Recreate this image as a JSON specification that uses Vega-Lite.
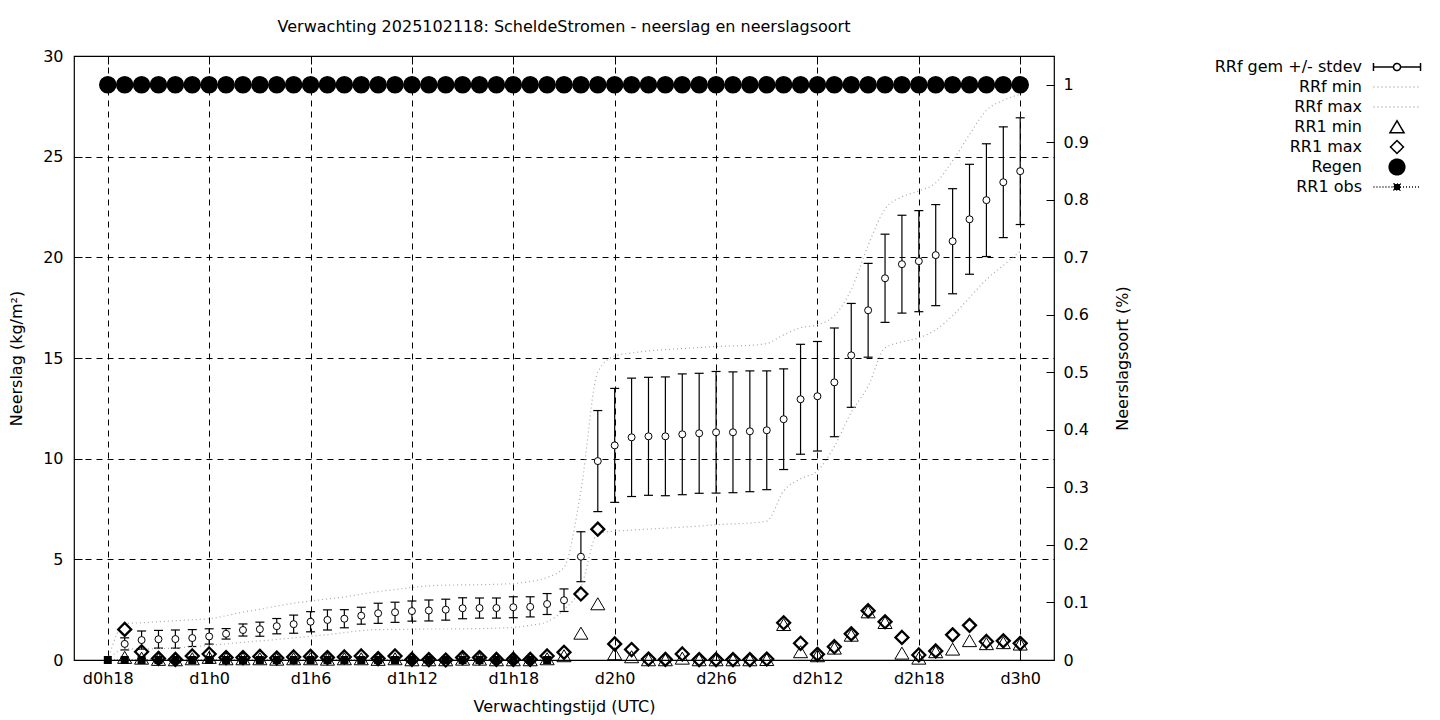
{
"$schema": "https://vega.github.io/schema/vega-lite/v6.json",
"width": 980, "height": 604,
"autosize": {"type": "none"},
"padding": {"left": 74, "top": 56, "right": 386, "bottom": 60},
"background": "white",
"title": {"text": "Verwachting 2025102118: ScheldeStromen - neerslag en neerslagsoort", "font": "DejaVu Sans", "fontSize": 16, "fontWeight": "normal", "color": "black", "anchor": "middle", "frame": "group", "baseline": "bottom", "offset": -3},
"datasets": {
"rrf": [
{"h":19,"v":0.8,"lo":0.5,"hi":1.1},{"h":20,"v":0.99,"lo":0.54,"hi":1.44},{"h":21,"v":1.03,"lo":0.59,"hi":1.47},{"h":22,"v":1.04,"lo":0.59,"hi":1.49},{"h":23,"v":1.09,"lo":0.67,"hi":1.51},{"h":24,"v":1.17,"lo":0.79,"hi":1.55},{"h":25,"v":1.3,"lo":1.04,"hi":1.56},{"h":26,"v":1.49,"lo":1.19,"hi":1.79},{"h":27,"v":1.53,"lo":1.18,"hi":1.88},{"h":28,"v":1.68,"lo":1.3,"hi":2.06},{"h":29,"v":1.78,"lo":1.33,"hi":2.23},{"h":30,"v":1.9,"lo":1.4,"hi":2.4},{"h":31,"v":1.99,"lo":1.49,"hi":2.49},{"h":32,"v":2.05,"lo":1.6,"hi":2.5},{"h":33,"v":2.2,"lo":1.78,"hi":2.62},{"h":34,"v":2.32,"lo":1.82,"hi":2.82},{"h":35,"v":2.37,"lo":1.87,"hi":2.87},{"h":36,"v":2.43,"lo":1.93,"hi":2.93},{"h":37,"v":2.46,"lo":1.94,"hi":2.98},{"h":38,"v":2.5,"lo":1.98,"hi":3.02},{"h":39,"v":2.57,"lo":2.05,"hi":3.09},{"h":40,"v":2.58,"lo":2.08,"hi":3.08},{"h":41,"v":2.58,"lo":2.08,"hi":3.08},{"h":42,"v":2.62,"lo":2.1,"hi":3.14},{"h":43,"v":2.64,"lo":2.14,"hi":3.14},{"h":44,"v":2.78,"lo":2.26,"hi":3.3},{"h":45,"v":2.97,"lo":2.41,"hi":3.53},{"h":46,"v":5.13,"lo":3.89,"hi":6.37},{"h":47,"v":9.88,"lo":7.37,"hi":12.39},{"h":48,"v":10.66,"lo":7.83,"hi":13.49},{"h":49,"v":11.06,"lo":8.12,"hi":14.0},{"h":50,"v":11.11,"lo":8.18,"hi":14.04},{"h":51,"v":11.11,"lo":8.16,"hi":14.06},{"h":52,"v":11.21,"lo":8.21,"hi":14.21},{"h":53,"v":11.26,"lo":8.28,"hi":14.24},{"h":54,"v":11.31,"lo":8.29,"hi":14.33},{"h":55,"v":11.31,"lo":8.31,"hi":14.31},{"h":56,"v":11.36,"lo":8.36,"hi":14.36},{"h":57,"v":11.41,"lo":8.46,"hi":14.36},{"h":58,"v":11.96,"lo":9.46,"hi":14.46},{"h":59,"v":12.95,"lo":10.22,"hi":15.68},{"h":60,"v":13.1,"lo":10.38,"hi":15.82},{"h":61,"v":13.79,"lo":11.09,"hi":16.49},{"h":62,"v":15.13,"lo":12.55,"hi":17.71},{"h":63,"v":17.37,"lo":15.04,"hi":19.7},{"h":64,"v":18.96,"lo":16.77,"hi":21.15},{"h":65,"v":19.66,"lo":17.23,"hi":22.09},{"h":66,"v":19.81,"lo":17.3,"hi":22.32},{"h":67,"v":20.11,"lo":17.6,"hi":22.62},{"h":68,"v":20.8,"lo":18.19,"hi":23.41},{"h":69,"v":21.89,"lo":19.16,"hi":24.62},{"h":70,"v":22.84,"lo":20.04,"hi":25.64},{"h":71,"v":23.73,"lo":20.98,"hi":26.48},{"h":72,"v":24.28,"lo":21.63,"hi":26.93}
],
"lines": [
{"h":18,"series":"RRf min","v":0},{"h":19,"series":"RRf min","v":0.55},{"h":20,"series":"RRf min","v":0.55},{"h":21,"series":"RRf min","v":0.56},{"h":22,"series":"RRf min","v":0.6},{"h":23,"series":"RRf min","v":0.66},{"h":24,"series":"RRf min","v":0.73},{"h":25,"series":"RRf min","v":0.8},{"h":26,"series":"RRf min","v":0.88},{"h":27,"series":"RRf min","v":0.95},{"h":28,"series":"RRf min","v":1.02},{"h":29,"series":"RRf min","v":1.1},{"h":30,"series":"RRf min","v":1.18},{"h":31,"series":"RRf min","v":1.26},{"h":32,"series":"RRf min","v":1.36},{"h":33,"series":"RRf min","v":1.46},{"h":34,"series":"RRf min","v":1.51},{"h":35,"series":"RRf min","v":1.52},{"h":36,"series":"RRf min","v":1.53},{"h":37,"series":"RRf min","v":1.54},{"h":38,"series":"RRf min","v":1.54},{"h":39,"series":"RRf min","v":1.55},{"h":40,"series":"RRf min","v":1.56},{"h":41,"series":"RRf min","v":1.58},{"h":42,"series":"RRf min","v":1.62},{"h":43,"series":"RRf min","v":1.72},{"h":44,"series":"RRf min","v":1.9},{"h":45,"series":"RRf min","v":2.5},{"h":46,"series":"RRf min","v":3.6},{"h":47,"series":"RRf min","v":6.3},{"h":48,"series":"RRf min","v":6.4},{"h":49,"series":"RRf min","v":6.45},{"h":50,"series":"RRf min","v":6.5},{"h":51,"series":"RRf min","v":6.55},{"h":52,"series":"RRf min","v":6.6},{"h":53,"series":"RRf min","v":6.65},{"h":54,"series":"RRf min","v":6.72},{"h":55,"series":"RRf min","v":6.76},{"h":56,"series":"RRf min","v":6.8},{"h":57,"series":"RRf min","v":6.9},{"h":58,"series":"RRf min","v":8.4},{"h":59,"series":"RRf min","v":9.0},{"h":60,"series":"RRf min","v":9.4},{"h":61,"series":"RRf min","v":10.6},{"h":62,"series":"RRf min","v":12.3},{"h":63,"series":"RRf min","v":13.6},{"h":64,"series":"RRf min","v":15.5},{"h":65,"series":"RRf min","v":15.8},{"h":66,"series":"RRf min","v":16.0},{"h":67,"series":"RRf min","v":16.4},{"h":68,"series":"RRf min","v":17.1},{"h":69,"series":"RRf min","v":18.0},{"h":70,"series":"RRf min","v":18.9},{"h":71,"series":"RRf min","v":19.6},{"h":72,"series":"RRf min","v":20.3},
{"h":18,"series":"RRf max","v":0},{"h":19,"series":"RRf max","v":1.8},{"h":20,"series":"RRf max","v":1.85},{"h":21,"series":"RRf max","v":1.9},{"h":22,"series":"RRf max","v":1.95},{"h":23,"series":"RRf max","v":2.0},{"h":24,"series":"RRf max","v":2.05},{"h":25,"series":"RRf max","v":2.2},{"h":26,"series":"RRf max","v":2.38},{"h":27,"series":"RRf max","v":2.52},{"h":28,"series":"RRf max","v":2.68},{"h":29,"series":"RRf max","v":2.82},{"h":30,"series":"RRf max","v":2.93},{"h":31,"series":"RRf max","v":3.03},{"h":32,"series":"RRf max","v":3.13},{"h":33,"series":"RRf max","v":3.27},{"h":34,"series":"RRf max","v":3.4},{"h":35,"series":"RRf max","v":3.5},{"h":36,"series":"RRf max","v":3.6},{"h":37,"series":"RRf max","v":3.68},{"h":38,"series":"RRf max","v":3.72},{"h":39,"series":"RRf max","v":3.73},{"h":40,"series":"RRf max","v":3.74},{"h":41,"series":"RRf max","v":3.76},{"h":42,"series":"RRf max","v":3.8},{"h":43,"series":"RRf max","v":3.9},{"h":44,"series":"RRf max","v":4.1},{"h":45,"series":"RRf max","v":4.6},{"h":46,"series":"RRf max","v":8.4},{"h":47,"series":"RRf max","v":14.3},{"h":48,"series":"RRf max","v":15.1},{"h":49,"series":"RRf max","v":15.25},{"h":50,"series":"RRf max","v":15.35},{"h":51,"series":"RRf max","v":15.42},{"h":52,"series":"RRf max","v":15.47},{"h":53,"series":"RRf max","v":15.52},{"h":54,"series":"RRf max","v":15.57},{"h":55,"series":"RRf max","v":15.6},{"h":56,"series":"RRf max","v":15.63},{"h":57,"series":"RRf max","v":15.72},{"h":58,"series":"RRf max","v":16.15},{"h":59,"series":"RRf max","v":16.5},{"h":60,"series":"RRf max","v":16.65},{"h":61,"series":"RRf max","v":17.1},{"h":62,"series":"RRf max","v":18.4},{"h":63,"series":"RRf max","v":20.6},{"h":64,"series":"RRf max","v":22.4},{"h":65,"series":"RRf max","v":23.0},{"h":66,"series":"RRf max","v":23.3},{"h":67,"series":"RRf max","v":23.7},{"h":68,"series":"RRf max","v":24.8},{"h":69,"series":"RRf max","v":26.1},{"h":70,"series":"RRf max","v":27.3},{"h":71,"series":"RRf max","v":27.8},{"h":72,"series":"RRf max","v":28.1}
],
"rr1min": [
{"h":19,"series":"RR1 min","v":0.12},{"h":20,"series":"RR1 min","v":0.08},{"h":21,"series":"RR1 min","v":0.02},{"h":22,"series":"RR1 min","v":0},{"h":23,"series":"RR1 min","v":0.05},{"h":24,"series":"RR1 min","v":0.12},{"h":25,"series":"RR1 min","v":0.05},{"h":26,"series":"RR1 min","v":0.05},{"h":27,"series":"RR1 min","v":0.05},{"h":28,"series":"RR1 min","v":0.03},{"h":29,"series":"RR1 min","v":0.05},{"h":30,"series":"RR1 min","v":0.05},{"h":31,"series":"RR1 min","v":0.03},{"h":32,"series":"RR1 min","v":0.05},{"h":33,"series":"RR1 min","v":0.05},{"h":34,"series":"RR1 min","v":0.02},{"h":35,"series":"RR1 min","v":0.05},{"h":36,"series":"RR1 min","v":0},{"h":37,"series":"RR1 min","v":0},{"h":38,"series":"RR1 min","v":0},{"h":39,"series":"RR1 min","v":0.03},{"h":40,"series":"RR1 min","v":0.03},{"h":41,"series":"RR1 min","v":0},{"h":42,"series":"RR1 min","v":0},{"h":43,"series":"RR1 min","v":0},{"h":44,"series":"RR1 min","v":0.05},{"h":45,"series":"RR1 min","v":0.2},{"h":46,"series":"RR1 min","v":1.32},{"h":47,"series":"RR1 min","v":2.78},{"h":48,"series":"RR1 min","v":0.3},{"h":49,"series":"RR1 min","v":0.15},{"h":50,"series":"RR1 min","v":0},{"h":51,"series":"RR1 min","v":0},{"h":52,"series":"RR1 min","v":0.08},{"h":53,"series":"RR1 min","v":0},{"h":54,"series":"RR1 min","v":0},{"h":55,"series":"RR1 min","v":0},{"h":56,"series":"RR1 min","v":0},{"h":57,"series":"RR1 min","v":0.01},{"h":58,"series":"RR1 min","v":1.75},{"h":59,"series":"RR1 min","v":0.4},{"h":60,"series":"RR1 min","v":0.2},{"h":61,"series":"RR1 min","v":0.58},{"h":62,"series":"RR1 min","v":1.22},{"h":63,"series":"RR1 min","v":2.38},{"h":64,"series":"RR1 min","v":1.85},{"h":65,"series":"RR1 min","v":0.33},{"h":66,"series":"RR1 min","v":0.08},{"h":67,"series":"RR1 min","v":0.4},{"h":68,"series":"RR1 min","v":0.53},{"h":69,"series":"RR1 min","v":0.95},{"h":70,"series":"RR1 min","v":0.8},{"h":71,"series":"RR1 min","v":0.85},{"h":72,"series":"RR1 min","v":0.78}
],
"rr1max": [
{"h":19,"series":"RR1 max","v":1.52},{"h":20,"series":"RR1 max","v":0.41},{"h":21,"series":"RR1 max","v":0.08},{"h":22,"series":"RR1 max","v":0.03},{"h":23,"series":"RR1 max","v":0.2},{"h":24,"series":"RR1 max","v":0.3},{"h":25,"series":"RR1 max","v":0.12},{"h":26,"series":"RR1 max","v":0.12},{"h":27,"series":"RR1 max","v":0.18},{"h":28,"series":"RR1 max","v":0.1},{"h":29,"series":"RR1 max","v":0.15},{"h":30,"series":"RR1 max","v":0.18},{"h":31,"series":"RR1 max","v":0.12},{"h":32,"series":"RR1 max","v":0.15},{"h":33,"series":"RR1 max","v":0.2},{"h":34,"series":"RR1 max","v":0.07},{"h":35,"series":"RR1 max","v":0.2},{"h":36,"series":"RR1 max","v":0.03},{"h":37,"series":"RR1 max","v":0.02},{"h":38,"series":"RR1 max","v":0},{"h":39,"series":"RR1 max","v":0.12},{"h":40,"series":"RR1 max","v":0.12},{"h":41,"series":"RR1 max","v":0.03},{"h":42,"series":"RR1 max","v":0.03},{"h":43,"series":"RR1 max","v":0.03},{"h":44,"series":"RR1 max","v":0.2},{"h":45,"series":"RR1 max","v":0.38},{"h":46,"series":"RR1 max","v":3.28},{"h":47,"series":"RR1 max","v":6.5},{"h":48,"series":"RR1 max","v":0.8},{"h":49,"series":"RR1 max","v":0.52},{"h":50,"series":"RR1 max","v":0.05},{"h":51,"series":"RR1 max","v":0.03},{"h":52,"series":"RR1 max","v":0.3},{"h":53,"series":"RR1 max","v":0.02},{"h":54,"series":"RR1 max","v":0.02},{"h":55,"series":"RR1 max","v":0.02},{"h":56,"series":"RR1 max","v":0.02},{"h":57,"series":"RR1 max","v":0.05},{"h":58,"series":"RR1 max","v":1.85},{"h":59,"series":"RR1 max","v":0.83},{"h":60,"series":"RR1 max","v":0.28},{"h":61,"series":"RR1 max","v":0.66},{"h":62,"series":"RR1 max","v":1.3},{"h":63,"series":"RR1 max","v":2.45},{"h":64,"series":"RR1 max","v":1.9},{"h":65,"series":"RR1 max","v":1.12},{"h":66,"series":"RR1 max","v":0.25},{"h":67,"series":"RR1 max","v":0.45},{"h":68,"series":"RR1 max","v":1.25},{"h":69,"series":"RR1 max","v":1.72},{"h":70,"series":"RR1 max","v":0.92},{"h":71,"series":"RR1 max","v":0.95},{"h":72,"series":"RR1 max","v":0.83}
],
"regen": [
{"h":18,"series":"Regen","v":1},{"h":19,"series":"Regen","v":1},{"h":20,"series":"Regen","v":1},{"h":21,"series":"Regen","v":1},{"h":22,"series":"Regen","v":1},{"h":23,"series":"Regen","v":1},{"h":24,"series":"Regen","v":1},{"h":25,"series":"Regen","v":1},{"h":26,"series":"Regen","v":1},{"h":27,"series":"Regen","v":1},{"h":28,"series":"Regen","v":1},{"h":29,"series":"Regen","v":1},{"h":30,"series":"Regen","v":1},{"h":31,"series":"Regen","v":1},{"h":32,"series":"Regen","v":1},{"h":33,"series":"Regen","v":1},{"h":34,"series":"Regen","v":1},{"h":35,"series":"Regen","v":1},{"h":36,"series":"Regen","v":1},{"h":37,"series":"Regen","v":1},{"h":38,"series":"Regen","v":1},{"h":39,"series":"Regen","v":1},{"h":40,"series":"Regen","v":1},{"h":41,"series":"Regen","v":1},{"h":42,"series":"Regen","v":1},{"h":43,"series":"Regen","v":1},{"h":44,"series":"Regen","v":1},{"h":45,"series":"Regen","v":1},{"h":46,"series":"Regen","v":1},{"h":47,"series":"Regen","v":1},{"h":48,"series":"Regen","v":1},{"h":49,"series":"Regen","v":1},{"h":50,"series":"Regen","v":1},{"h":51,"series":"Regen","v":1},{"h":52,"series":"Regen","v":1},{"h":53,"series":"Regen","v":1},{"h":54,"series":"Regen","v":1},{"h":55,"series":"Regen","v":1},{"h":56,"series":"Regen","v":1},{"h":57,"series":"Regen","v":1},{"h":58,"series":"Regen","v":1},{"h":59,"series":"Regen","v":1},{"h":60,"series":"Regen","v":1},{"h":61,"series":"Regen","v":1},{"h":62,"series":"Regen","v":1},{"h":63,"series":"Regen","v":1},{"h":64,"series":"Regen","v":1},{"h":65,"series":"Regen","v":1},{"h":66,"series":"Regen","v":1},{"h":67,"series":"Regen","v":1},{"h":68,"series":"Regen","v":1},{"h":69,"series":"Regen","v":1},{"h":70,"series":"Regen","v":1},{"h":71,"series":"Regen","v":1},{"h":72,"series":"Regen","v":1}
],
"obs": [
{"h":18,"v":0},{"h":19,"v":0},{"h":20,"v":0},{"h":21,"v":0},{"h":22,"v":0},{"h":23,"v":0},{"h":24,"v":0},{"h":25,"v":0},{"h":26,"v":0},{"h":27,"v":0},{"h":28,"v":0},{"h":29,"v":0},{"h":30,"v":0},{"h":31,"v":0},{"h":32,"v":0},{"h":33,"v":0},{"h":34,"v":0},{"h":35,"v":0},{"h":36,"v":0},{"h":37,"v":0},{"h":38,"v":0},{"h":39,"v":0},{"h":40,"v":0},{"h":41,"v":0},{"h":42,"v":0},{"h":43,"v":0},{"h":44,"v":0}
]
},
"layer": [
{
"encoding": {
"x": {"field": "h", "type": "quantitative", "scale": {"domain": [16, 74], "nice": false, "zero": false}, "axis": {"title": "Verwachtingstijd (UTC)", "values": [18,24,30,36,42,48,54,60,66,72], "labelExpr": "'d' + floor(datum.value/24) + 'h' + (datum.value % 24)", "grid": true}}
},
"layer": [
{"data": {"name": "rrf"}, "mark": {"type": "rule", "color": "black", "strokeWidth": 1.2},
 "encoding": {"y": {"field": "lo", "type": "quantitative", "scale": {"domain": [0, 30], "nice": false}, "axis": {"title": "Neerslag (kg/m²)", "values": [0,5,10,15,20,25,30], "grid": true}}, "y2": {"field": "hi"}}},
{"data": {"name": "rrf"}, "mark": {"type": "tick", "orient": "horizontal", "size": 9, "thickness": 1.2, "color": "black", "opacity": 1},
 "encoding": {"y": {"field": "lo", "type": "quantitative", "scale": {"domain": [0, 30], "nice": false}, "axis": {"title": "Neerslag (kg/m²)", "values": [0,5,10,15,20,25,30], "grid": true}}}},
{"data": {"name": "rrf"}, "mark": {"type": "tick", "orient": "horizontal", "size": 9, "thickness": 1.2, "color": "black", "opacity": 1},
 "encoding": {"y": {"field": "hi", "type": "quantitative", "scale": {"domain": [0, 30], "nice": false}, "axis": {"title": "Neerslag (kg/m²)", "values": [0,5,10,15,20,25,30], "grid": true}}}},
{"data": {"name": "rrf"}, "mark": {"type": "point", "shape": "circle", "size": 49, "filled": true, "fill": "white", "stroke": "black", "strokeWidth": 1, "opacity": 1},
 "encoding": {"y": {"field": "v", "type": "quantitative", "scale": {"domain": [0, 30], "nice": false}, "axis": {"title": "Neerslag (kg/m²)", "values": [0,5,10,15,20,25,30], "grid": true}}}},
{"data": {"name": "lines"}, "mark": {"type": "line", "strokeWidth": 1.2, "interpolate": "monotone"},
 "encoding": {
  "y": {"field": "v", "type": "quantitative", "scale": {"domain": [0, 30], "nice": false}, "axis": {"title": "Neerslag (kg/m²)", "values": [0,5,10,15,20,25,30], "grid": true}},
  "stroke": {"field": "series", "type": "nominal", "scale": {"domain": ["RRf gem +/- stdev","RRf min","RRf max","RR1 min","RR1 max","Regen","RR1 obs"], "range": ["black","#a8a8a8","#a8a8a8","black","black","black","black"]}, "legend": {"title": null}},
  "strokeDash": {"field": "series", "type": "nominal", "scale": {"domain": ["RRf gem +/- stdev","RRf min","RRf max","RR1 min","RR1 max","Regen","RR1 obs"], "range": [[1,0],[1,3],[1,3],[1,0],[1,0],[1,0],[1,2]]}, "legend": {"title": null}}
 }},
{"data": {"name": "rr1min"}, "mark": {"type": "point", "size": 256, "filled": true, "opacity": 1, "strokeWidth": 1},
 "encoding": {
  "y": {"field": "v", "type": "quantitative", "scale": {"domain": [0, 30], "nice": false}, "axis": {"title": "Neerslag (kg/m²)", "values": [0,5,10,15,20,25,30], "grid": true}},
  "shape": {"field": "series", "type": "nominal", "scale": {"domain": ["RRf gem +/- stdev","RRf min","RRf max","RR1 min","RR1 max","Regen","RR1 obs"], "range": ["M0,-1M0,1M-2.94,-0.5L-2.94,0.5M-2.94,0L-0.44,0M0.44,0L2.94,0M2.94,-0.5L2.94,0.5M-0.44,0A0.44,0.44,0,1,1,0.44,0A0.44,0.44,0,1,1,-0.44,0Z","M0,-1M0,1M-2.94,0L2.94,0","M0,-1M0,1M-2.94,0L2.94,0","M0,-1M0,1M0,-0.78L0.88,0.72L-0.88,0.72Z","M0,-1M0,1M0,-0.81L0.81,0L0,0.81L-0.81,0Z","M0,-1M0,1M-0.975,0A0.975,0.975,0,1,1,0.975,0A0.975,0.975,0,1,1,-0.975,0Z","M0,-1M0,1M-2.94,0L-0.38,0M0.38,0L2.94,0M-0.38,-0.38L0.38,-0.38L0.38,0.38L-0.38,0.38Z"]}, "legend": {"title": null}},
  "stroke": {"field": "series", "type": "nominal", "scale": {"domain": ["RRf gem +/- stdev","RRf min","RRf max","RR1 min","RR1 max","Regen","RR1 obs"], "range": ["black","#a8a8a8","#a8a8a8","black","black","black","black"]}, "legend": {"title": null}},
  "fill": {"field": "series", "type": "nominal", "scale": {"domain": ["RRf gem +/- stdev","RRf min","RRf max","RR1 min","RR1 max","Regen","RR1 obs"], "range": ["white","transparent","transparent","transparent","transparent","black","black"]}, "legend": {"title": null}}
 }},
{"data": {"name": "rr1max"}, "mark": {"type": "point", "size": 256, "filled": true, "opacity": 1, "strokeWidth": 2.3},
 "encoding": {
  "y": {"field": "v", "type": "quantitative", "scale": {"domain": [0, 30], "nice": false}, "axis": {"title": "Neerslag (kg/m²)", "values": [0,5,10,15,20,25,30], "grid": true}},
  "shape": {"field": "series", "type": "nominal", "scale": {"domain": ["RRf gem +/- stdev","RRf min","RRf max","RR1 min","RR1 max","Regen","RR1 obs"], "range": ["M0,-1M0,1M-2.94,-0.5L-2.94,0.5M-2.94,0L-0.44,0M0.44,0L2.94,0M2.94,-0.5L2.94,0.5M-0.44,0A0.44,0.44,0,1,1,0.44,0A0.44,0.44,0,1,1,-0.44,0Z","M0,-1M0,1M-2.94,0L2.94,0","M0,-1M0,1M-2.94,0L2.94,0","M0,-1M0,1M0,-0.78L0.88,0.72L-0.88,0.72Z","M0,-1M0,1M0,-0.81L0.81,0L0,0.81L-0.81,0Z","M0,-1M0,1M-0.975,0A0.975,0.975,0,1,1,0.975,0A0.975,0.975,0,1,1,-0.975,0Z","M0,-1M0,1M-2.94,0L-0.38,0M0.38,0L2.94,0M-0.38,-0.38L0.38,-0.38L0.38,0.38L-0.38,0.38Z"]}, "legend": {"title": null}},
  "stroke": {"field": "series", "type": "nominal", "scale": {"domain": ["RRf gem +/- stdev","RRf min","RRf max","RR1 min","RR1 max","Regen","RR1 obs"], "range": ["black","#a8a8a8","#a8a8a8","black","black","black","black"]}, "legend": {"title": null}},
  "fill": {"field": "series", "type": "nominal", "scale": {"domain": ["RRf gem +/- stdev","RRf min","RRf max","RR1 min","RR1 max","Regen","RR1 obs"], "range": ["white","transparent","transparent","transparent","transparent","black","black"]}, "legend": {"title": null}}
 }},
{"data": {"name": "obs"}, "mark": {"type": "line", "color": "black", "strokeWidth": 1, "strokeDash": [1,2], "point": {"shape": "square", "size": 64, "filled": true, "fill": "black", "opacity": 1}},
 "encoding": {"y": {"field": "v", "type": "quantitative", "scale": {"domain": [0, 30], "nice": false}, "axis": {"title": "Neerslag (kg/m²)", "values": [0,5,10,15,20,25,30], "grid": true}}}}
]
},
{
"data": {"name": "regen"},
"mark": {"type": "point", "size": 256, "filled": true, "opacity": 1},
"encoding": {
 "x": {"field": "h", "type": "quantitative", "scale": {"domain": [16, 74], "nice": false, "zero": false}, "axis": {"orient": "top", "title": null, "labels": false, "grid": false, "values": [18,24,30,36,42,48,54,60,66,72]}},
 "y": {"field": "v", "type": "quantitative", "scale": {"domain": [0, 1.05], "nice": false}, "axis": {"orient": "right", "title": "Neerslagsoort (%)", "values": [0,0.1,0.2,0.3,0.4,0.5,0.6,0.7,0.8,0.9,1], "format": ".1~f", "grid": false}},
 "shape": {"field": "series", "type": "nominal", "scale": {"domain": ["RRf gem +/- stdev","RRf min","RRf max","RR1 min","RR1 max","Regen","RR1 obs"], "range": ["M0,-1M0,1M-2.94,-0.5L-2.94,0.5M-2.94,0L-0.44,0M0.44,0L2.94,0M2.94,-0.5L2.94,0.5M-0.44,0A0.44,0.44,0,1,1,0.44,0A0.44,0.44,0,1,1,-0.44,0Z","M0,-1M0,1M-2.94,0L2.94,0","M0,-1M0,1M-2.94,0L2.94,0","M0,-1M0,1M0,-0.78L0.88,0.72L-0.88,0.72Z","M0,-1M0,1M0,-0.81L0.81,0L0,0.81L-0.81,0Z","M0,-1M0,1M-0.975,0A0.975,0.975,0,1,1,0.975,0A0.975,0.975,0,1,1,-0.975,0Z","M0,-1M0,1M-2.94,0L-0.38,0M0.38,0L2.94,0M-0.38,-0.38L0.38,-0.38L0.38,0.38L-0.38,0.38Z"]}, "legend": {"title": null}},
 "stroke": {"field": "series", "type": "nominal", "scale": {"domain": ["RRf gem +/- stdev","RRf min","RRf max","RR1 min","RR1 max","Regen","RR1 obs"], "range": ["black","#a8a8a8","#a8a8a8","black","black","black","black"]}, "legend": {"title": null}},
 "fill": {"field": "series", "type": "nominal", "scale": {"domain": ["RRf gem +/- stdev","RRf min","RRf max","RR1 min","RR1 max","Regen","RR1 obs"], "range": ["white","transparent","transparent","transparent","transparent","black","black"]}, "legend": {"title": null}}
}
}
],
"resolve": {"scale": {"y": "independent", "x": "independent"}},
"config": {
 "font": "DejaVu Sans",
 "view": {"stroke": "black", "strokeWidth": 1.2},
 "axis": {"labelFont": "DejaVu Sans", "labelFontSize": 16, "labelColor": "black", "titleFont": "DejaVu Sans", "titleFontSize": 16, "titleFontWeight": "normal", "titleColor": "black", "tickColor": "black", "tickWidth": 1, "domain": false, "gridColor": "black", "gridDash": [6, 5], "gridOpacity": 1, "gridWidth": 1},
 "axisBottom": {"tickSize": -8, "labelPadding": 18, "titlePadding": 12},
 "axisTop": {"tickSize": -8},
 "axisLeft": {"tickSize": -8, "labelPadding": 19, "titlePadding": 18},
 "axisRight": {"tickSize": -8, "labelPadding": 17, "titlePadding": 42, "titleAngle": 270},
 "legend": {"orient": "none", "legendX": 1314, "legendY": 2, "labelAlign": "right", "labelOffset": -44, "labelFont": "DejaVu Sans", "labelFontSize": 16, "labelColor": "black", "symbolSize": 256, "symbolStrokeWidth": 1.5, "rowPadding": -4.6, "padding": 0, "labelLimit": 400}
}
}
